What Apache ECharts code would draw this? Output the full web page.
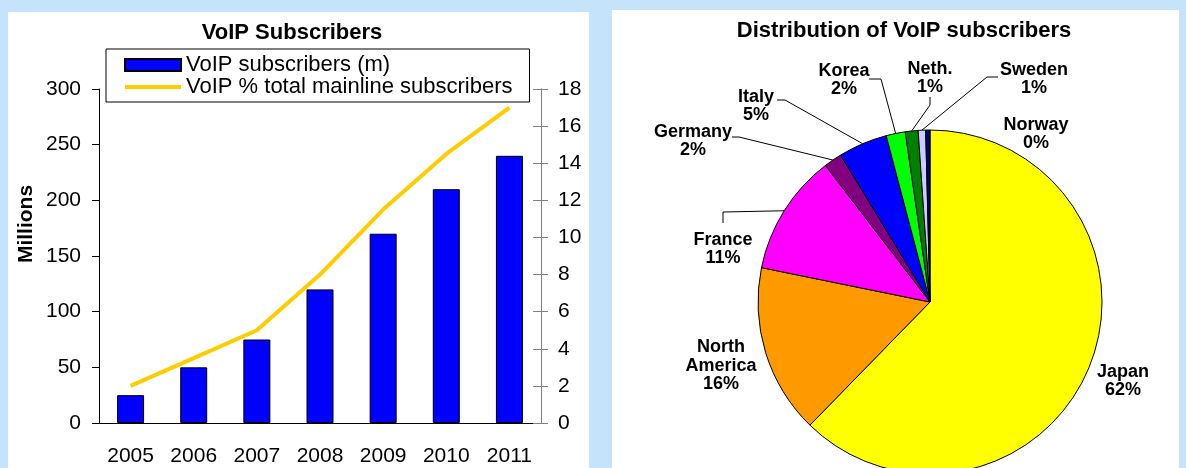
<!DOCTYPE html>
<html>
<head>
<meta charset="utf-8">
<title>VoIP Subscribers</title>
<script src="https://cdn.jsdelivr.net/npm/echarts@6/dist/echarts.min.js"></script>
<style>
  html, body { margin: 0; padding: 0; background: #C5E4FC; }
  #chart { width: 1186px; height: 468px; }
</style>
</head>
<body>
<div id="chart"></div>
<script>
// bar + line chart data
const years = ['2005', '2006', '2007', '2008', '2009', '2010', '2011'];
const subscribers = [25, 50, 75, 120, 170, 210, 240];      // millions
const mainlineShare = [2, 3.5, 5, 8, 11.5, 14.5, 17];       // % of mainline subscribers
const leftTicks = { min: 0, max: 300, interval: 50 };
const rightTicks = { min: 0, max: 18, interval: 2 };

// pie data (share of VoIP subscribers, %)
const countries = ['Japan', 'North America', 'France', 'Germany', 'Italy', 'Korea', 'Neth.', 'Sweden', 'Norway'];
const countryShare = [62.3, 15.9, 11.4, 1.7, 4.6, 1.8, 1.2, 0.7, 0.4];
const countryColors = ['#FFFF00', '#FF9900', '#FF00FF', '#800080', '#0000FF', '#00FF00', '#008000', '#CCCCFF', '#000080'];

// where each pie label sits (and the bends of its leader line)
const labelSpots = {
  'Japan': { at: [1123, 381] },
  'North America': { at: [721, 366] },
  'France': { at: [723, 249], bend: [723, 212], end: [723, 223] },
  'Germany': { at: [693, 141], bend: [739, 137], end: [732, 137] },
  'Italy': { at: [756, 106], bend: [785, 100], end: [777, 100] },
  'Korea': { at: [844, 80], bend: [881, 79], end: [869, 79] },
  'Neth.': { at: [930, 78], bend: [930, 105], end: [930, 97] },
  'Sweden': { at: [1034, 79], bend: [987, 77], end: [998, 77] },
  'Norway': { at: [1036, 134] }
};

const FONT = '"Liberation Sans", Arial, sans-serif';
const BAR_NAME = 'VoIP subscribers (m)';
const LINE_NAME = 'VoIP % total mainline subscribers';

const chart = echarts.init(document.getElementById('chart'));

const pieData = countries.map((name, i) => ({
  name: name,
  value: countryShare[i],
  itemStyle: { color: countryColors[i] },
  labelLine: { show: !!labelSpots[name].bend }
}));

const options = {
  animation: false,
  backgroundColor: '#C5E4FC',
  textStyle: { fontFamily: FONT },
  graphic: [
    { type: 'rect', z: -10, silent: true, shape: { x: 8, y: 12, width: 581, height: 460 }, style: { fill: '#fff' } },
    { type: 'rect', z: -10, silent: true, shape: { x: 612, y: 10, width: 567, height: 460 }, style: { fill: '#fff' } },
    {
      type: 'text', x: 292, y: 33, z: 10,
      style: { text: 'VoIP Subscribers', font: 'bold 22px ' + FONT, fill: '#000', align: 'center', verticalAlign: 'middle' }
    },
    {
      type: 'text', x: 904, y: 31, z: 10,
      style: { text: 'Distribution of VoIP subscribers', font: 'bold 22px ' + FONT, fill: '#000', align: 'center', verticalAlign: 'middle' }
    },
    {
      type: 'text', x: 26, y: 224, z: 10, rotation: Math.PI / 2,
      style: { text: 'Millions', font: 'bold 21px ' + FONT, fill: '#000', align: 'center', verticalAlign: 'middle' }
    }
  ],
  legend: {
    data: [
      { name: BAR_NAME, icon: 'rect' },
      {
        name: LINE_NAME,
        itemStyle: { color: 'rgba(0,0,0,0)', borderWidth: 0, opacity: 0 },
        lineStyle: { width: 4, color: '#FFCC00' }
      }
    ],
    orient: 'vertical',
    left: 106,
    top: 49,
    padding: [5, 17, 4, 17],
    itemGap: 0,
    itemWidth: 56,
    itemHeight: 12,
    borderColor: '#000',
    borderWidth: 1,
    backgroundColor: '#fff',
    textStyle: { fontSize: 22, color: '#000', fontFamily: FONT }
  },
  grid: { left: 99, right: 645, top: 89, bottom: 45 },
  xAxis: {
    type: 'category',
    data: years,
    axisLine: { lineStyle: { color: '#000' } },
    axisTick: { length: 7, lineStyle: { color: '#000' } },
    axisLabel: { fontSize: 21, color: '#000', margin: 23 }
  },
  yAxis: [
    {
      type: 'value', ...leftTicks,
      axisLine: { show: true, lineStyle: { color: '#000' } },
      axisTick: { show: true, length: 7, lineStyle: { color: '#000' } },
      axisLabel: { fontSize: 21, color: '#000', margin: 18 },
      splitLine: { show: false }
    },
    {
      type: 'value', position: 'right', ...rightTicks,
      axisLine: { show: true, lineStyle: { color: '#808080' } },
      axisTick: { show: true, length: 7, lineStyle: { color: '#808080' } },
      axisLabel: { fontSize: 21, color: '#000', margin: 17 },
      splitLine: { show: false }
    },
    {
      type: 'value', position: 'right', ...rightTicks,
      axisLine: { show: true, lineStyle: { color: '#808080' } },
      axisTick: { show: true, inside: true, length: 8, lineStyle: { color: '#808080' } },
      axisLabel: { show: false },
      splitLine: { show: false }
    }
  ],
  series: [
    {
      name: BAR_NAME,
      type: 'bar',
      yAxisIndex: 0,
      barWidth: 27,
      data: subscribers,
      itemStyle: { color: '#0000FF', borderColor: '#000', borderWidth: 1 }
    },
    {
      name: LINE_NAME,
      type: 'line',
      yAxisIndex: 1,
      data: mainlineShare,
      symbol: 'none',
      z: 5,
      itemStyle: { color: '#FFCC00' },
      lineStyle: { color: '#FFCC00', width: 4 }
    },
    {
      name: 'Distribution',
      type: 'pie',
      center: [930, 302],
      radius: 172,
      startAngle: 90,
      clockwise: true,
      avoidLabelOverlap: false,
      itemStyle: { borderColor: '#000', borderWidth: 1 },
      label: {
        show: true,
        position: 'outside',
        color: '#000',
        fontSize: 18,
        fontWeight: 'bold',
        fontFamily: FONT,
        lineHeight: 18.5,
        align: 'center',
        formatter: p => p.name.replace(' ', '\n') + '\n' + Math.round(p.percent) + '%'
      },
      labelLine: { show: true, lineStyle: { color: '#000', width: 1 } },
      labelLayout: function (p) {
        const spot = labelSpots[countries[p.dataIndex]];
        const out = { x: spot.at[0], y: spot.at[1], align: 'center', verticalAlign: 'middle' };
        if (spot.bend && p.labelLinePoints) {
          out.labelLinePoints = [p.labelLinePoints[0], spot.bend, spot.end];
        }
        return out;
      },
      data: pieData
    }
  ]
};

chart.setOption(options);
window.addEventListener('resize', () => chart.resize());
</script>
</body>
</html>
